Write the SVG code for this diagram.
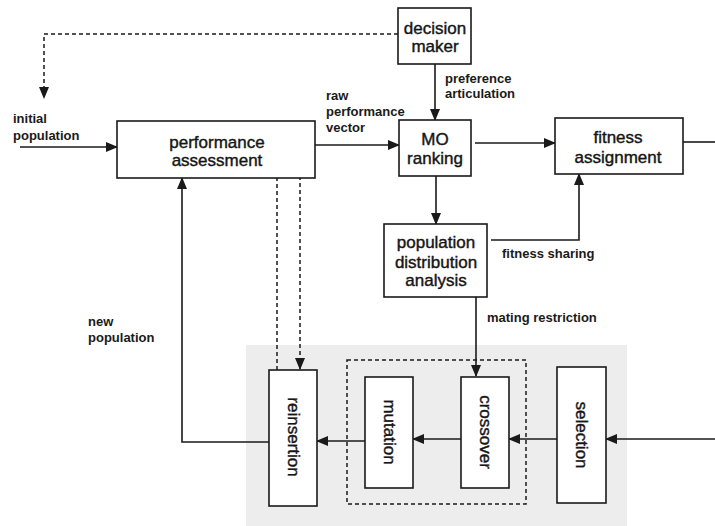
<svg xmlns="http://www.w3.org/2000/svg" width="715" height="526" viewBox="0 0 715 526">
<defs>
<marker id="ah" markerUnits="userSpaceOnUse" markerWidth="12" markerHeight="10" refX="11" refY="5" orient="auto">
<path d="M0,0 L12,5 L0,10 Z" fill="#1a1a1a"/>
</marker>
<style>
.box{fill:#fff;stroke:#1a1a1a;stroke-width:1.6}
.nt{font-family:"Liberation Sans",Arial,sans-serif;font-size:17px;fill:#151515;stroke:#151515;stroke-width:0.4;text-anchor:middle}
.lb{font-family:"Liberation Sans",Arial,sans-serif;font-size:13px;font-weight:bold;fill:#1a1a1a}
.ln{fill:none;stroke:#1a1a1a;stroke-width:1.6}
.ds{fill:none;stroke:#1a1a1a;stroke-width:1.5;stroke-dasharray:4 3}
</style>
</defs>
<rect x="0" y="0" width="715" height="526" fill="#fff"/>
<rect id="gray-area" x="246" y="345" width="381" height="181" fill="#ededed"/>
<g id="connectors">
<polyline class="ds" points="398,34 44,34 44,98" marker-end="url(#ah)"/>
<line class="ln" x1="20" y1="147" x2="117" y2="147" marker-end="url(#ah)"/>
<line class="ln" x1="315" y1="145" x2="399" y2="145" marker-end="url(#ah)"/>
<line class="ln" x1="435" y1="64" x2="435" y2="120" marker-end="url(#ah)"/>
<line class="ln" x1="475" y1="143" x2="555" y2="143" marker-end="url(#ah)"/>
<line class="ln" x1="683" y1="142" x2="715" y2="142"/>
<line class="ln" x1="436" y1="176" x2="436" y2="224" marker-end="url(#ah)"/>
<polyline class="ln" points="491,240 579,240 579,174" marker-end="url(#ah)"/>
<line class="ln" x1="476" y1="297" x2="476" y2="376" marker-end="url(#ah)"/>
<polyline class="ds" points="277,370 277,169 300,169 300,369" marker-end="url(#ah)"/>
<polyline class="ln" points="269,442 182,442 182,178" marker-end="url(#ah)"/>
<line class="ln" x1="715" y1="439" x2="606" y2="439" marker-end="url(#ah)"/>
<line class="ln" x1="557" y1="439" x2="509" y2="439" marker-end="url(#ah)"/>
<line class="ln" x1="461" y1="439" x2="413" y2="439" marker-end="url(#ah)"/>
<line class="ln" x1="365" y1="441" x2="317" y2="441" marker-end="url(#ah)"/>
<rect class="ds" x="347" y="360" width="179" height="144"/>
<text class="lb" x="13" y="123">initial</text>
<text class="lb" x="13" y="140">population</text>
<text class="lb" x="326" y="100">raw</text>
<text class="lb" x="326" y="116">performance</text>
<text class="lb" x="326" y="132">vector</text>
<text class="lb" x="445" y="83">preference</text>
<text class="lb" x="445" y="98">articulation</text>
<text class="lb" x="502" y="258">fitness sharing</text>
<text class="lb" x="487" y="322">mating restriction</text>
<text class="lb" x="88" y="326">new</text>
<text class="lb" x="88" y="342">population</text>
</g>
<g id="performance-assessment">
<rect class="box" x="117" y="121" width="198" height="57"/>
<text class="nt" x="217" y="148">performance</text>
<text class="nt" x="217" y="166">assessment</text>
</g>
<g id="decision-maker">
<rect class="box" x="398" y="8" width="73" height="56"/>
<text class="nt" x="435" y="34">decision</text>
<text class="nt" x="435" y="52">maker</text>
</g>
<g id="mo-ranking">
<rect class="box" x="399" y="120" width="72" height="56"/>
<text class="nt" x="435" y="145">MO</text>
<text class="nt" x="435" y="164">ranking</text>
</g>
<g id="fitness-assignment">
<rect class="box" x="555" y="118" width="128" height="56"/>
<text class="nt" x="618" y="143">fitness</text>
<text class="nt" x="618" y="163">assignment</text>
</g>
<g id="population-distribution-analysis">
<rect class="box" x="384" y="224" width="103" height="73"/>
<text class="nt" x="436" y="248">population</text>
<text class="nt" x="436" y="268">distribution</text>
<text class="nt" x="436" y="286">analysis</text>
</g>
<g id="reinsertion">
<rect class="box" x="269" y="370" width="48" height="136"/>
<text class="nt" transform="translate(293,437) rotate(90)" dominant-baseline="central">reinsertion</text>
</g>
<g id="mutation">
<rect class="box" x="365" y="377" width="48" height="111"/>
<text class="nt" transform="translate(389,432) rotate(90)" dominant-baseline="central">mutation</text>
</g>
<g id="crossover">
<rect class="box" x="461" y="377" width="48" height="111"/>
<text class="nt" transform="translate(485,432) rotate(90)" dominant-baseline="central">crossover</text>
</g>
<g id="selection">
<rect class="box" x="557" y="367" width="49" height="136"/>
<text class="nt" transform="translate(581,435) rotate(90)" dominant-baseline="central">selection</text>
</g>
</svg>
